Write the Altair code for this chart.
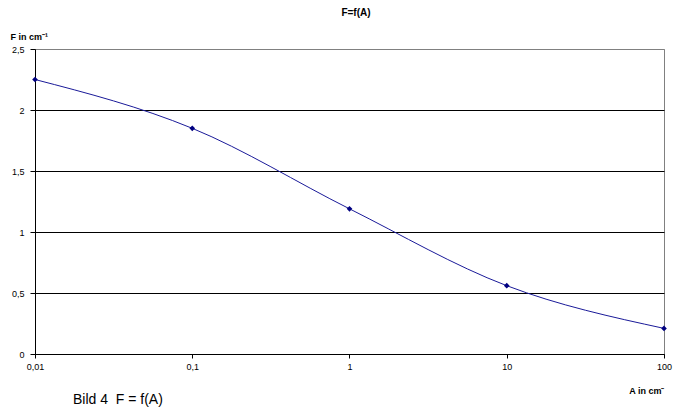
import altair as alt
import pandas as pd

a_values = [0.01, 0.1, 1, 10, 100]
f_values = [2.25, 1.85, 1.19, 0.56, 0.21]
x_ticks = [0.01, 0.1, 1, 10, 100]
y_ticks = [0, 0.5, 1, 1.5, 2, 2.5]

df = pd.DataFrame({"A": a_values, "F": f_values})
FONT = "Liberation Sans"
W, H = 629, 305

x_enc = alt.X("A:Q", scale=alt.Scale(type="log", domain=[0.01, 100]),
              axis=alt.Axis(values=x_ticks, title="A in cm⁻", titleFont=FONT, titleFontSize=9,
                            titleFontWeight="bold", titleAlign="right", titleX=W, titleY=36,
                            titleBaseline="middle",
                            labelExpr="replace(format(datum.value, ''), '.', ',')",
                            labelFont=FONT, labelFontSize=9, labelColor="black", labelPadding=4,
                            domainColor="black", tickColor="black", tickSize=4, grid=False,
                            labelFlush=False))
y_enc = alt.Y("F:Q", scale=alt.Scale(domain=[0, 2.5], nice=False),
              axis=alt.Axis(values=y_ticks, title="F in cm⁻¹", titleFont=FONT, titleFontSize=9,
                            titleFontWeight="bold", titleAngle=0, titleAlign="left",
                            titleX=-25, titleY=-13, titleBaseline="middle",
                            labelExpr="replace(format(datum.value, ''), '.', ',')",
                            labelFont=FONT, labelFontSize=9, labelColor="black", labelPadding=6,
                            domainColor="black", tickColor="black", tickSize=5,
                            grid=True,
                            gridColor={"condition": {"test": "datum.value >= 2.5", "value": "#808080"},
                                       "value": "black"},
                            gridOpacity=1, gridWidth=1))

line = alt.Chart(df).mark_line(color="#1a1a99", strokeWidth=1, interpolate="monotone").encode(x=x_enc, y=y_enc)
pts = alt.Chart(df).mark_point(shape="diamond", filled=True, color="#000080", size=32, opacity=1).encode(x="A:Q", y="F:Q")

title_df = pd.DataFrame({"t": ["F=f(A)"]})
title = alt.Chart(title_df).mark_text(font=FONT, fontSize=10, fontWeight="bold", align="center",
                                      baseline="middle", color="black").encode(
    text="t:N", x=alt.value(321), y=alt.value(-36))
cap_df = pd.DataFrame({"t": ["Bild 4\u00a0 F = f(A)"]})
caption = alt.Chart(cap_df).mark_text(font=FONT, fontSize=14, align="left",
                                      baseline="middle", color="black").encode(
    text="t:N", x=alt.value(38), y=alt.value(351))

chart = alt.layer(line, pts, title, caption).properties(
    width=W, height=H,
    padding={"left": 27, "top": 41, "right": 10, "bottom": 54},
    autosize=alt.AutoSizeParams(type="none"),
    background="white",
).configure_view(stroke="#808080", strokeWidth=1)

chart.save("out.html", embed_options={"renderer": "svg", "actions": False})
